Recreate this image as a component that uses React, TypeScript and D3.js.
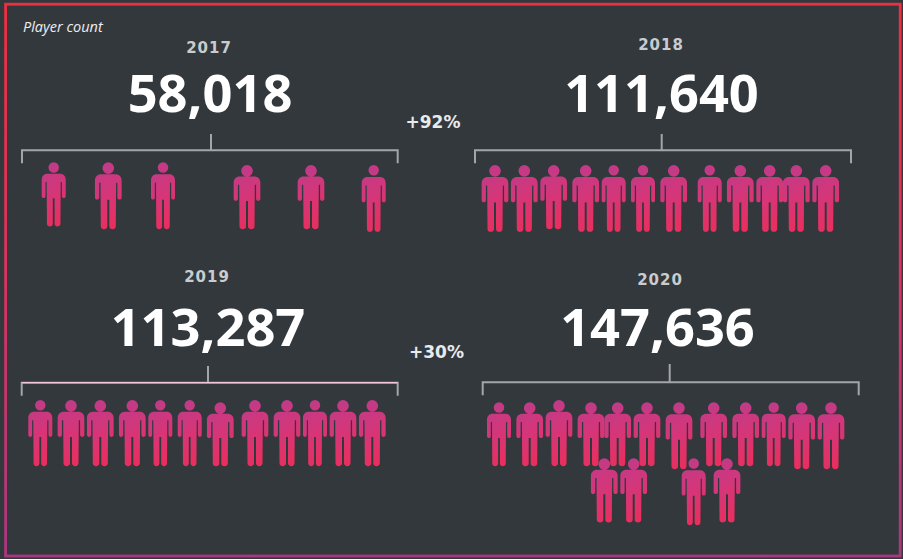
import React from "react";
import * as d3 from "d3";

const W = 903;
const H = 559;

const years = ["2017", "2018", "2019", "2020"];
const counts = [58018, 111640, 113287, 147636];
const changes = ["+92%", "+30%"];

// Icon placement: offset along the bracket, drop below it, figure length, figure build (0 narrow, 1 wide)
const slots2017 = [31.7, 86.3, 141, 225, 289, 351.7];
const drops2017 = [12, 12, 12, 14.7, 14.7, 14.7];
const lengths2017 = [64, 66.7, 66.7, 64, 64, 66.7];
const builds2017 = [0, 1, 0, 1, 1, 0];

const slots2018 = [20, 49.3, 78.7, 110.7, 138.7, 168, 198.7, 234.7, 265.3, 294.7, 321.3, 350.7];
const drops2018 = [14.7, 14.7, 14.7, 14.7, 14.7, 14.7, 14.7, 14.7, 14.7, 14.7, 14.7, 14.7];
const lengths2018 = [66.7, 66.7, 64, 66.7, 66.7, 66.7, 66.7, 66.7, 66.7, 66.7, 66.7, 66.7];
const builds2018 = [1, 1, 1, 1, 0, 0, 1, 0, 1, 1, 1, 1];

const slots2019 = [18.6, 49.3, 78.6, 110.6, 138.6, 168, 198.6, 233.3, 265.3, 293.3, 321.3, 350.6];
const drops2019 = [17.3, 17.3, 17.3, 17.3, 17.3, 17.3, 19.6, 17.3, 17.3, 17.3, 17.3, 17.3];
const lengths2019 = [66, 66, 66, 66, 66, 66, 63.7, 66, 66, 66, 66, 66];
const builds2019 = [0, 1, 1, 1, 0, 0, 1, 1, 1, 0, 1, 1];

const slots2020 = [16.3, 47, 76.3, 108.3, 135, 164.3, 196.3, 231, 263, 291, 319, 348.3, 121.6, 151, 211, 244.3];
const drops2020 = [20, 20, 17.7, 20, 20, 20, 20, 20, 20, 20, 20, 20, 76, 76, 76, 76];
const lengths2020 = [63.7, 63.7, 66, 63.7, 63.7, 63.7, 66.7, 63.7, 63.7, 63.7, 66.7, 66.7, 64, 64, 66.7, 64];
const builds2020 = [0, 1, 1, 1, 1, 1, 1, 1, 1, 0, 1, 1, 1, 1, 0, 1];

const slots = [slots2017, slots2018, slots2019, slots2020];
const drops = [drops2017, drops2018, drops2019, drops2020];
const lengths = [lengths2017, lengths2018, lengths2019, lengths2020];
const builds = [builds2017, builds2018, builds2019, builds2020];

type Panel = {
  left: number; right: number; y: number; stem: number; stemTop: number;
  yearX: number; yearY: number; countX: number; countY: number; hot?: boolean;
};
const panels: Panel[] = [
  { left: 22, right: 397.7, y: 150.3, stem: 211, stemTop: 134, yearX: 209, yearY: 53, countX: 210, countY: 112 },
  { left: 475, right: 851, y: 150.3, stem: 661.7, stemTop: 134, yearX: 661, yearY: 50, countX: 661.5, countY: 112 },
  { left: 21.7, right: 397.7, y: 382.7, stem: 208, stemTop: 366, yearX: 207, yearY: 282, countX: 208, countY: 346, hot: true },
  { left: 482.7, right: 858.7, y: 382.3, stem: 669.7, stemTop: 364, yearX: 660, yearY: 285, countX: 657.5, countY: 346 },
];

const fmt = d3.format(",");

// Standing figure, x centred on 0 and y from the head top, for a full-width figure of 26.7 x 66.7
function figurePath(w: number, h: number) {
  const sx = d3.scaleLinear().domain([0, 13.35]).range([0, w / 2]);
  const sy = d3.scaleLinear().domain([0, 66.7]).range([0, h]);
  const p = d3.path();
  const r = w * 0.218;
  p.moveTo(r, sy(0) + r);
  p.arc(0, r, r, 0, Math.PI * 2);
  p.closePath();
  const side = (s: number) => (v: number) => s * sx(v);
  const R = side(1);
  const L = side(-1);
  p.moveTo(L(7), sy(12));
  p.lineTo(R(7), sy(12));
  p.bezierCurveTo(R(11), sy(12), R(13.35), sy(14.5), R(13.35), sy(18.5));
  p.lineTo(R(13.35), sy(35.2));
  p.bezierCurveTo(R(13.35), sy(38), R(9.1), sy(38), R(9.1), sy(35.2));
  p.lineTo(R(9.1), sy(20.5));
  p.lineTo(R(7.8), sy(20.5));
  p.lineTo(R(7.5), sy(64));
  p.bezierCurveTo(R(7.5), sy(67.8), R(1), sy(67.8), R(1), sy(64));
  p.lineTo(R(1), sy(37.5));
  p.lineTo(L(1), sy(37.5));
  p.lineTo(L(1), sy(64));
  p.bezierCurveTo(L(1), sy(67.8), L(7.5), sy(67.8), L(7.5), sy(64));
  p.lineTo(L(7.8), sy(20.5));
  p.lineTo(L(9.1), sy(20.5));
  p.lineTo(L(9.1), sy(35.2));
  p.bezierCurveTo(L(9.1), sy(38), L(13.35), sy(38), L(13.35), sy(35.2));
  p.lineTo(L(13.35), sy(18.5));
  p.bezierCurveTo(L(13.35), sy(14.5), L(11), sy(12), L(7), sy(12));
  p.closePath();
  return p.toString();
}

const FONT_SANS = "'Open Sans', sans-serif";
const FONT_LABEL = "'DejaVu Sans', sans-serif";

export default function App() {
  const buildWidth = d3.scaleOrdinal<number, number>().domain([0, 1]).range([24, 26.7]);
  return (
    <svg
      width={W}
      height={H}
      viewBox={`0 0 ${W} ${H}`}
      style={{ position: "absolute", left: 0, top: 0, display: "block" }}
    >
      <defs>
        <linearGradient id="fig" x1="0.35" y1="0" x2="0.6" y2="1">
          <stop offset="0" stopColor="#bf3b88" />
          <stop offset="0.45" stopColor="#d4367a" />
          <stop offset="1" stopColor="#ea2e5c" />
        </linearGradient>
        <linearGradient id="frame" gradientUnits="userSpaceOnUse" x1="0" y1="0" x2="0" y2={H}>
          <stop offset="0" stopColor="#ec2f40" />
          <stop offset="0.5" stopColor="#d83360" />
          <stop offset="1" stopColor="#a8387f" />
        </linearGradient>
      </defs>
      <rect width={W} height={H} fill="#33383d" />
      <rect x={5.6} y={4.2} width={894.6} height={551.8} fill="none" stroke="url(#frame)" strokeWidth={2.8} />
      <text x={23} y={32} fontFamily={FONT_SANS} fontStyle="italic" fontSize={14.5} fill="#eceef0">
        Player count
      </text>
      {panels.map((pn, i) => {
        const x = d3.scaleLinear().domain([0, pn.right - pn.left]).range([pn.left, pn.right]);
        const y = d3.scaleLinear().domain([0, 100]).range([pn.y, pn.y + 100]);
        return (
          <g key={years[i]}>
            <text x={pn.yearX} y={pn.yearY} textAnchor="middle" fontFamily={FONT_LABEL} fontWeight={700} fontSize={15} letterSpacing={1} fill="#c9ccce">
              {years[i]}
            </text>
            <text x={pn.countX} y={pn.countY} textAnchor="middle" fontFamily={FONT_SANS} fontWeight={700} fontSize={52.4} fill="#ffffff">
              {fmt(counts[i])}
            </text>
            <path
              d={`M${pn.left},${pn.y + 13}V${pn.y}H${pn.right}V${pn.y + 13}M${pn.stem},${pn.stemTop}V${pn.y}`}
              fill="none"
              stroke="#a3a6a9"
              strokeWidth={2}
            />
            {pn.hot && (
              <line x1={pn.left} x2={pn.right} y1={pn.y} y2={pn.y} stroke="#f0c4da" strokeWidth={1.2} />
            )}
            {slots[i].map((s, j) => (
              <path
                key={j}
                transform={`translate(${x(s)},${y(drops[i][j])})`}
                d={figurePath(buildWidth(builds[i][j]), lengths[i][j])}
                fill="url(#fig)"
              />
            ))}
          </g>
        );
      })}
      <text x={433} y={128} textAnchor="middle" fontFamily={FONT_LABEL} fontWeight={700} fontSize={17} fill="#e8eaeb">
        {changes[0]}
      </text>
      <text x={436.5} y={358} textAnchor="middle" fontFamily={FONT_LABEL} fontWeight={700} fontSize={17} fill="#e8eaeb">
        {changes[1]}
      </text>
    </svg>
  );
}
